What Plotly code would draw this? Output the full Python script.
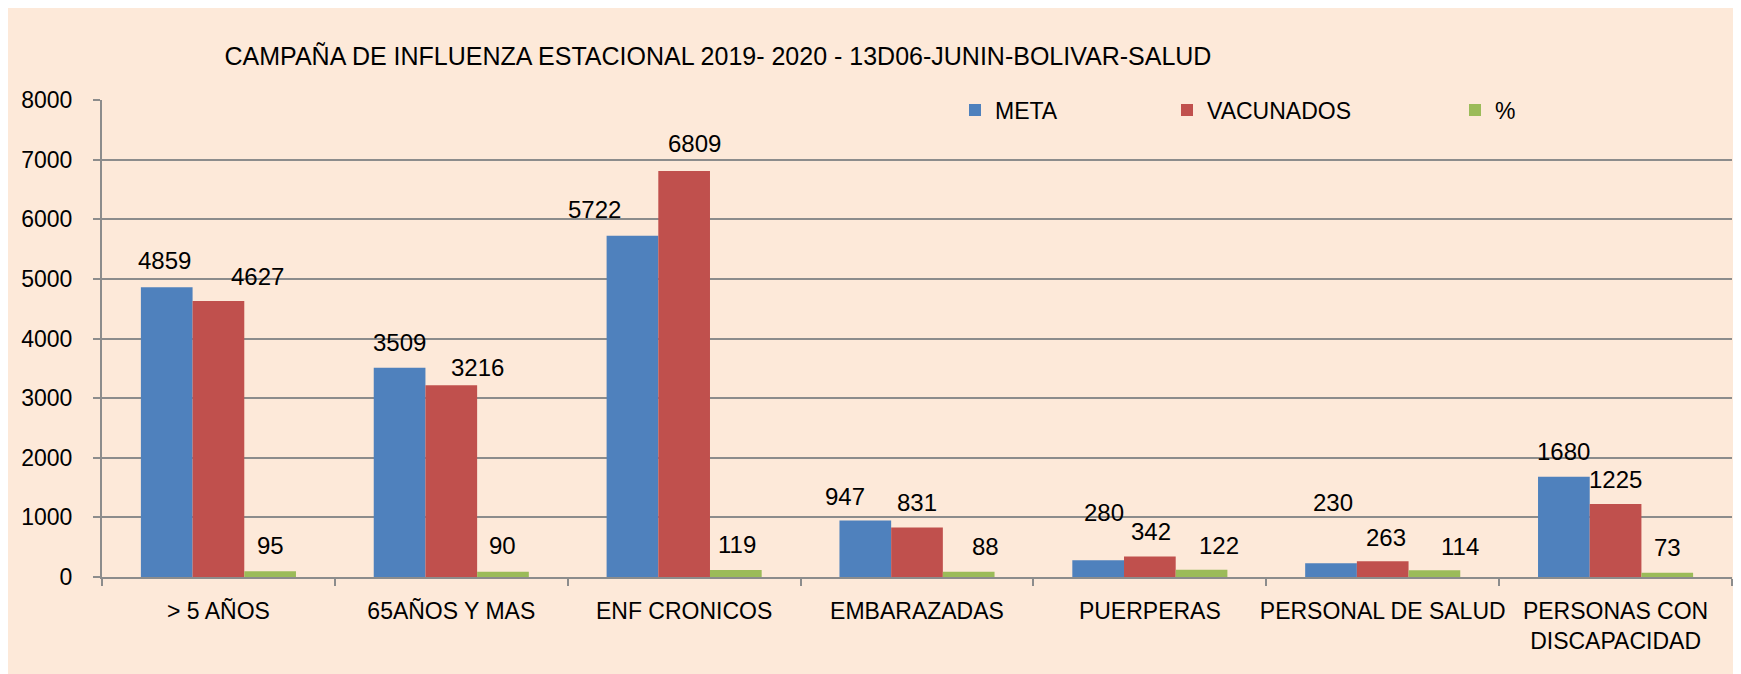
import plotly.graph_objects as go

# ---------------- data ----------------
categories = ["> 5 AÑOS", "65AÑOS Y MAS", "ENF CRONICOS", "EMBARAZADAS",
              "PUERPERAS", "PERSONAL DE SALUD", "PERSONAS CON<br>DISCAPACIDAD"]
meta = [4859, 3509, 5722, 947, 280, 230, 1680]
vacunados = [4627, 3216, 6809, 831, 342, 263, 1225]
porcentaje = [95, 90, 119, 88, 122, 114, 73]
y_ticks = [0, 1000, 2000, 3000, 4000, 5000, 6000, 7000, 8000]
title_text = "CAMPAÑA DE INFLUENZA ESTACIONAL 2019- 2020 - 13D06-JUNIN-BOLIVAR-SALUD"

# ---------------- style ----------------
FONT = "Liberation Sans, Arial, sans-serif"
BG = "#FDE9D9"
GRID = "#8C8C8C"
COLORS = ["#4F81BD", "#C0504D", "#9BBB59"]
BARGAP = 0.334
W, H = 1733, 666          # page body margin (8px) supplies the thin white frame
# label nudges in pixels (dx, dy-up) as placed in the original
meta_nudge = [(-2, 27), (0, 25), (-38, 26), (-20, 24), (6, 48), (2, 61), (0, 25)]
vac_nudge = [(39, 25), (26, 18), (10, 28), (0, 25), (1, 25), (3, 24), (0, 24)]
pct_nudge = [(0, 26), (0, 26), (1, 25), (17, 25), (17, 24), (26, 24), (0, 25)]

fig = go.Figure()
series = [("META", meta, "legend"), ("VACUNADOS", vacunados, "legend2"), ("%", porcentaje, "legend3")]
for (name, vals, lg), col in zip(series, COLORS):
    fig.add_trace(go.Bar(x=categories, y=vals, name=name, marker=dict(color=col, line=dict(width=0)),
                         legend=lg, showlegend=True, hoverinfo="x+y+name"))

annotations = []
slot = (1 - BARGAP) / 3
for k, (vals, nudges) in enumerate([(meta, meta_nudge), (vacunados, vac_nudge), (porcentaje, pct_nudge)]):
    for i, v in enumerate(vals):
        dx, dy = nudges[i]
        annotations.append(dict(x=i + (k - 1) * slot, y=v, xref="x", yref="y", text=str(v),
                                showarrow=False, xanchor="center", yanchor="middle",
                                xshift=dx, yshift=dy,
                                font=dict(family=FONT, size=24, color="#000000")))

fig.update_layout(
    width=W, height=H, autosize=False,
    margin=dict(l=94, r=9, t=92, b=97, pad=0, autoexpand=False),
    paper_bgcolor=BG, plot_bgcolor=BG,
    showlegend=True,
    barmode="group", bargap=BARGAP, bargroupgap=0,
    font=dict(family=FONT, size=23, color="#000000"),
    title=dict(text=title_text, x=710 / W, xref="container", xanchor="center",
               y=1 - 48 / H, yref="container", yanchor="middle",
               font=dict(family=FONT, size=25, color="#000000")),
    annotations=annotations,
)
legend_common = dict(orientation="h", bgcolor="rgba(0,0,0,0)", font=dict(family=FONT, size=23),
                     xanchor="left", yanchor="middle", y=(577 - 110) / 477, borderwidth=0)
fig.update_layout(
    legend=dict(x=(955 - 102) / 1630, **legend_common),
    legend2=dict(x=(1167 - 102) / 1630, **legend_common),
    legend3=dict(x=(1455 - 102) / 1630, **legend_common),
)

fig.update_xaxes(type="category", showline=True, linecolor=GRID, linewidth=2,
                 ticks="outside", tickson="boundaries", ticklen=7, tickwidth=2, tickcolor=GRID,
                 ticklabelstandoff=12, showgrid=False, tickangle=0, automargin=False,
                 tickfont=dict(family=FONT, size=23, color="#000000"))
fig.update_yaxes(range=[0, 8000], tickvals=y_ticks, ticktext=[str(t) for t in y_ticks],
                 showline=True, linecolor=GRID, linewidth=2, automargin=False,
                 showgrid=True, gridcolor=GRID, gridwidth=2, zeroline=False,
                 ticks="outside", ticklen=7, tickwidth=2, tickcolor=GRID,
                 ticklabelstandoff=16,
                 tickfont=dict(family=FONT, size=23, color="#000000"))

fig.write_html("out.html")
